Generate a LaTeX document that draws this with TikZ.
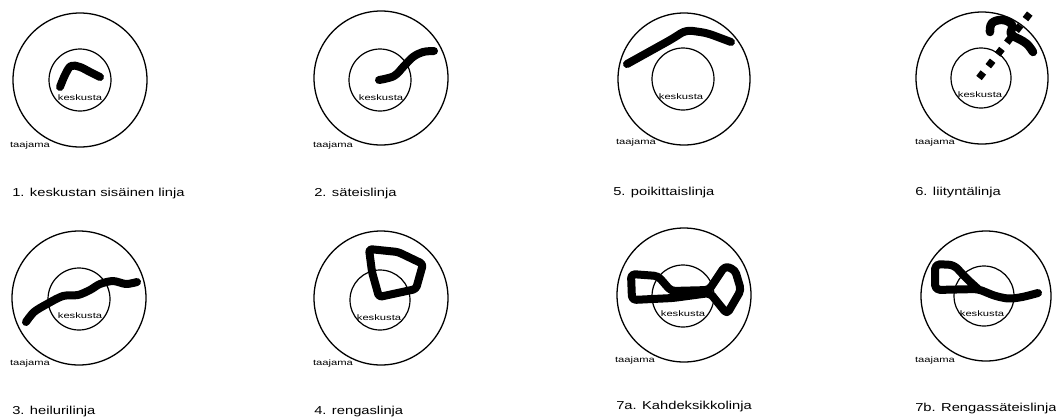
\documentclass[tikz,border=0pt]{standalone}
\usepackage{fontspec}
\setmainfont{Liberation Sans}
\tikzset{
  taajama/.style={draw, circle, line width=1.3pt, inner sep=0pt, minimum size=#1},
  keskusta/.style={draw, circle, line width=1.2pt, inner sep=0pt, minimum size=#1},
  nimi/.style={font=\fontsize{8}{9}\selectfont, inner sep=0pt, xscale=1.4, transform shape},
  otsikko/.style={font=\fontsize{11.5}{13}\selectfont, inner sep=0pt, anchor=base west, xscale=1.28, transform shape},
  linja/.style={line width=8pt, line cap=round, line join=round},
  liitynta/.style={line width=7pt, dash pattern=on 7pt off 8pt}
}
\begin{document}
\begin{tikzpicture}[x=1pt, y=-1pt]
\useasboundingbox (0,0) rectangle (1056,416);

% 1. keskustan sisainen linja
\node[taajama=134pt] (t1) at (80,80) {};
\node[keskusta=62pt] (k1) at (80,80) {};
\draw[linja] plot[smooth, tension=0.6] coordinates {(60,87) (65,75) (71,66) (80,67) (90,72) (100,77)};
\node[nimi] (kl1) at (80,98) {keskusta};
\node[nimi] (tl1) at (30,145) {taajama};
\node[otsikko] (o1) at (12,196.5) {1. keskustan sisäinen linja};

% 2. sateislinja
\node[taajama=134pt] (t2) at (381,78) {};
\node[keskusta=62pt] (k2) at (380,80) {};
\draw[linja] plot[smooth, tension=0.6] coordinates {(379,80) (394,76) (404,66) (413,57) (423,52) (434,51)};
\node[nimi] (kl2) at (381,98) {keskusta};
\node[nimi] (tl2) at (333,145) {taajama};
\node[otsikko] (o2) at (314,196) {2. säteislinja};

% 5. poikittaislinja
\node[taajama=132pt] (t5) at (684,79) {};
\node[keskusta=62pt] (k5) at (683,79) {};
\draw[linja, rounded corners=6pt] (627,64) -- (672,39) -- (686,30) -- (707,33) -- (731,42);
\node[nimi] (kl5) at (681,97) {keskusta};
\node[nimi] (tl5) at (636,142) {taajama};
\node[otsikko] (o5) at (613,195) {5. poikittaislinja};

% 6. liityntalinja
\node[taajama=132pt] (t6) at (982,78) {};
\node[keskusta=60pt] (k6) at (981,78) {};
\draw[liitynta] (979,78) -- (1031,12);
\draw[linja, line width=8.5pt] plot[smooth, tension=0.7] coordinates {(990,32) (992,23) (1003,20) (1012,25) (1011,34) (1019,39) (1027,44) (1033,52)};
\node[nimi] (kl6) at (980,95) {keskusta};
\node[nimi] (tl6) at (935,142) {taajama};
\node[otsikko] (o6) at (915,195) {6. liityntälinja};

% 3. heilurilinja
\node[taajama=134pt] (t3) at (79,298) {};
\node[keskusta=62pt] (k3) at (79,299) {};
\draw[linja] plot[smooth, tension=0.5] coordinates {(26,322) (34,312) (47,304) (63,296) (78,295) (90,290) (100,284) (113,281) (126,284) (137,282)};
\node[nimi] (kl3) at (80,316) {keskusta};
\node[nimi] (tl3) at (30,363) {taajama};
\node[otsikko] (o3) at (12,414.5) {3. heilurilinja};

% 4. rengaslinja
\node[taajama=134pt] (t4) at (381,298) {};
\node[keskusta=60pt] (k4) at (380,300) {};
\draw[linja, rounded corners=3pt] (369,249) -- (398,252) -- (423,264) -- (416,289) -- (379,297) -- (372,272) -- cycle;
\node[nimi] (kl4) at (379,318) {keskusta};
\node[nimi] (tl4) at (333,363) {taajama};
\node[otsikko] (o4) at (314,414.5) {4. rengaslinja};

% 7a. Kahdeksikkolinja
\node[taajama=134pt] (t7a) at (684,295) {};
\node[keskusta=62pt] (k7a) at (683,296) {};
\draw[linja, rounded corners=4pt] (631,274) -- (658,276) -- (671,291) -- (709,290) -- (725,266) -- (735,270) -- (741,290) -- (727,314) -- (710,293) -- (673,298) -- (632,300) -- cycle;
\node[nimi] (kl7a) at (683,314) {keskusta};
\node[nimi] (tl7a) at (635,360) {taajama};
\node[otsikko] (o7a) at (616,409.5) {7a. Kahdeksikkolinja};

% 7b. Rengassateislinja
\node[taajama=130pt] (t7b) at (986,296) {};
\node[keskusta=60pt] (k7b) at (984,296) {};
\draw[linja, rounded corners=5pt] (1038,293) -- (1023,297) -- (1009,299) -- (995,296) -- (978,289) -- (935,290) -- (935,264) -- (954,265) -- (967,279) -- (978,289);
\node[nimi] (kl7b) at (982,314) {keskusta};
\node[nimi] (tl7b) at (935,360) {taajama};
\node[otsikko] (o7b) at (915,411) {7b. Rengassäteislinja};
\end{tikzpicture}
\end{document}
